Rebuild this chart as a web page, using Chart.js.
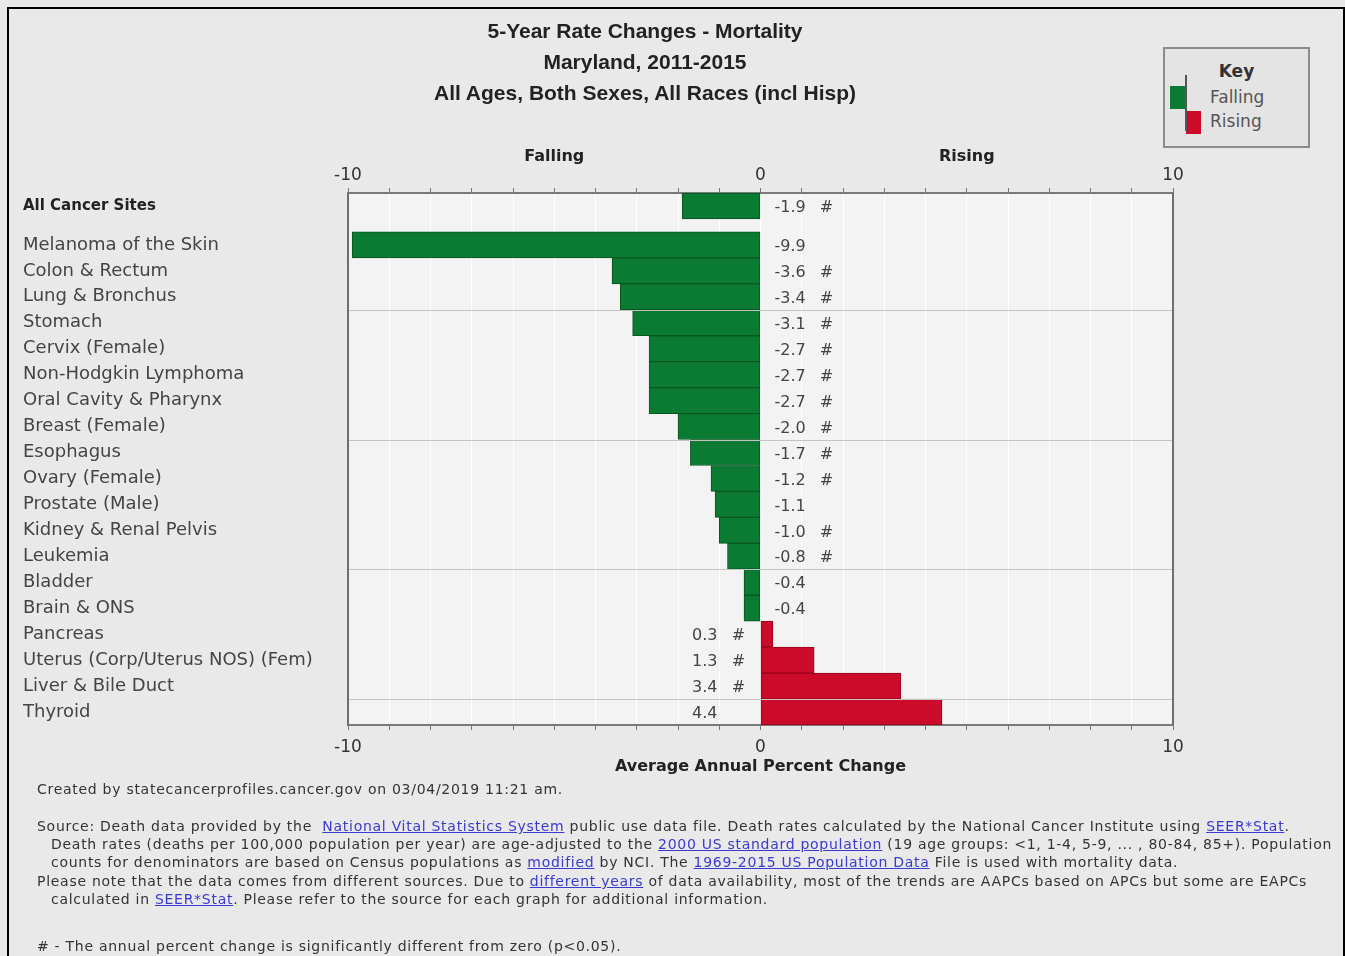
<!DOCTYPE html>
<html>
<head>
<meta charset="utf-8">
<script src="https://cdn.jsdelivr.net/npm/chart.js@4/dist/chart.umd.min.js"></script>
<style>
  body { margin: 0; background: #e9e9e9; }
  #page { position: relative; width: 1345px; height: 956px; overflow: hidden; background: #e9e9e9; font-family: "DejaVu Sans", sans-serif; }
  #frame { position: absolute; left: 7px; top: 7px; width: 1334px; height: 990px; border: 2px solid #000; }
  #chart { position: absolute; left: 0; top: 0; }
  .title { position: absolute; left: 345px; width: 600px; text-align: center; font: bold 21px "Liberation Sans", Arial, sans-serif; color: #222; }
  #key { position: absolute; left: 1163px; top: 47px; width: 143px; height: 97px; border: 2px solid #8c8c8c; background: #e4e4e4; color: #555; font-size: 17px; }
  #key .sw { position: absolute; width: 15px; height: 23px; }
  .note { position: absolute; white-space: nowrap; font-size: 14px; color: #333; letter-spacing: 0.72px; }
  .note a { color: #3a3ad0; text-decoration: underline; }
</style>
</head>
<body>
<div id="page">
  <div id="frame"></div>
  <canvas id="chart" width="1345" height="956"></canvas>
  <div class="title" style="top:19px">5-Year Rate Changes - Mortality</div>
  <div class="title" style="top:50px">Maryland, 2011-2015</div>
  <div class="title" style="top:81px">All Ages, Both Sexes, All Races (incl Hisp)</div>
  <div id="key">
    <div style="position:absolute;left:0;width:143px;top:12px;text-align:center;font-weight:bold;color:#333">Key</div>
    <div class="sw" style="left:5px;top:37px;background:#0b7a33"></div>
    <div class="sw" style="left:21px;top:62px;background:#cc0a2a"></div>
    <div style="position:absolute;left:20px;top:26px;width:2px;height:56px;background:#555"></div>
    <div style="position:absolute;left:45px;top:38px">Falling</div>
    <div style="position:absolute;left:45px;top:62px">Rising</div>
  </div>
  <div class="note" style="left:37px;top:781px">Created by statecancerprofiles.cancer.gov on 03/04/2019 11:21 am.</div>
  <div class="note" style="left:37px;top:818px">Source: Death data provided by the &nbsp;<a>National Vital Statistics System</a> public use data file. Death rates calculated by the National Cancer Institute using <a>SEER*Stat</a>.</div>
  <div class="note" style="left:51px;top:836px">Death rates (deaths per 100,000 population per year) are age-adjusted to the <a>2000 US standard population</a> (19 age groups: &lt;1, 1-4, 5-9, ... , 80-84, 85+). Population</div>
  <div class="note" style="left:51px;top:854px">counts for denominators are based on Census populations as <a>modified</a> by NCI. The <a>1969-2015 US Population Data</a> File is used with mortality data.</div>
  <div class="note" style="left:37px;top:873px">Please note that the data comes from different sources. Due to <a>different years</a> of data availability, most of the trends are AAPCs based on APCs but some are EAPCs</div>
  <div class="note" style="left:51px;top:891px">calculated in <a>SEER*Stat</a>. Please refer to the source for each graph for additional information.</div>
  <div class="note" style="left:37px;top:938px"># - The annual percent change is significantly different from zero (p&lt;0.05).</div>
</div>
<script>
const sites = [
  "All Cancer Sites", "Melanoma of the Skin", "Colon & Rectum", "Lung & Bronchus",
  "Stomach", "Cervix (Female)", "Non-Hodgkin Lymphoma", "Oral Cavity & Pharynx",
  "Breast (Female)", "Esophagus", "Ovary (Female)", "Prostate (Male)",
  "Kidney & Renal Pelvis", "Leukemia", "Bladder", "Brain & ONS", "Pancreas",
  "Uterus (Corp/Uterus NOS) (Fem)", "Liver & Bile Duct", "Thyroid"
];
const apc = [-1.9, -9.9, -3.6, -3.4, -3.1, -2.7, -2.7, -2.7, -2.0, -1.7, -1.2, -1.1, -1.0, -0.8, -0.4, -0.4, 0.3, 1.3, 3.4, 4.4];
const significant = [true, false, true, true, true, true, true, true, true, true, true, false, true, true, false, false, true, true, true, false];
const xTickLabels = [-10, 0, 10];

const FALL = "#0b7a33", FALL_EDGE = "#06561f";
const RISE = "#cc0a2a", RISE_EDGE = "#99001a";
const FONT = "DejaVu Sans";

// first row stands apart, the rest follow half a row lower
const rowPos = sites.map((s, i) => (i === 0 ? 0 : i + 0.5));

const plotBox = {
  id: "plotBox",
  beforeDraw(chart) {
    const { ctx, chartArea: a } = chart;
    ctx.save();
    ctx.fillStyle = "#f3f3f3";
    ctx.fillRect(a.left, a.top, a.right - a.left, a.bottom - a.top);
    ctx.restore();
  },
  afterDraw(chart) {
    const { ctx, chartArea: a } = chart;
    const y = chart.scales.y;
    ctx.save();
    // group separators every 5 rows
    ctx.strokeStyle = "#c4c4c4";
    ctx.lineWidth = 1;
    [3, 8, 13, 18].forEach((i) => {
      const py = Math.round(y.getPixelForValue((rowPos[i] + rowPos[i + 1]) / 2)) + 0.5;
      ctx.beginPath();
      ctx.moveTo(a.left, py);
      ctx.lineTo(a.right, py);
      ctx.stroke();
    });
    ctx.strokeStyle = "#6e6e6e";
    ctx.lineWidth = 2;
    ctx.beginPath();
    ctx.moveTo(a.left, a.top); ctx.lineTo(a.left, a.bottom);
    ctx.moveTo(a.right, a.top); ctx.lineTo(a.right, a.bottom);
    ctx.stroke();

    const x = chart.scales.x;
    const zero = x.getPixelForValue(0);
    ctx.fillStyle = "#222";
    ctx.font = "bold 16px " + FONT;
    ctx.textAlign = "center";
    ctx.textBaseline = "middle";
    ctx.fillText("Falling", x.getPixelForValue(-5), 157);
    ctx.fillText("Rising", x.getPixelForValue(5), 157);
    ctx.fillText("Average Annual Percent Change", zero, 767);

    // value labels next to zero line
    ctx.font = "16px " + FONT;
    ctx.fillStyle = "#444";
    chart.getDatasetMeta(0).data.forEach((bar, i) => {
      const v = apc[i];
      const ty = bar.y + 2;
      if (v < 0) {
        ctx.textAlign = "left";
        ctx.fillText(v.toFixed(1), zero + 14, ty);
        if (significant[i]) { ctx.textAlign = "center"; ctx.fillText("#", zero + 66, ty); }
      } else {
        ctx.textAlign = "right";
        ctx.fillText(v.toFixed(1), zero - 43, ty);
        if (significant[i]) { ctx.textAlign = "center"; ctx.fillText("#", zero - 22, ty); }
      }
    });
    ctx.restore();
  }
};

const xTickFont = { family: FONT, size: 17 };
const xLabel = (v) => (xTickLabels.includes(v) ? String(v) : "");

new Chart(document.getElementById("chart"), {
  type: "bar",
  data: {
    datasets: [{
      data: apc.map((v, i) => ({ x: v, y: rowPos[i] })),
      backgroundColor: apc.map((v) => (v < 0 ? FALL : RISE)),
      borderColor: apc.map((v) => (v < 0 ? FALL_EDGE : RISE_EDGE)),
      borderWidth: 1,
      borderSkipped: false,
      barPercentage: 1,
      categoryPercentage: 1
    }]
  },
  options: {
    indexAxis: "y",
    responsive: false,
    animation: false,
    layout: { padding: { left: 23, right: 172, top: 0, bottom: 0 } },
    plugins: { legend: { display: false }, tooltip: { enabled: false } },
    scales: {
      y: {
        type: "linear",
        reverse: true,
        offset: false,
        bounds: "data",
        min: -0.5,
        max: 20,
        afterBuildTicks: (s) => { s.ticks = rowPos.map((v) => ({ value: v })); },
        afterFit: (s) => { s.width = 325; },
        grid: { display: false, offset: false },
        border: { display: false },
        ticks: {
          crossAlign: "far",
          autoSkip: false,
          color: (c) => (c.index === 0 ? "#222" : "#444"),
          font: (c) => (c.index === 0 ? { family: FONT, size: 15, weight: "bold" } : { family: FONT, size: 18 }),
          callback: (v, i) => sites[i]
        }
      },
      x: {
        type: "linear",
        position: "bottom",
        min: -10,
        max: 10,
        afterFit: (s) => { s.height = 231; },
        grid: { color: "#ffffff", lineWidth: 1, tickColor: "#777", tickLength: 5 },
        border: { color: "#7a7a7a", width: 2 },
        ticks: { stepSize: 1, autoSkip: false, maxRotation: 0, padding: 7, color: "#333", font: xTickFont, callback: xLabel }
      },
      x2: {
        type: "linear",
        position: "top",
        min: -10,
        max: 10,
        afterFit: (s) => { s.height = 193; },
        grid: { drawOnChartArea: false, tickColor: "#777", tickLength: 5 },
        border: { color: "#7a7a7a", width: 2 },
        ticks: { stepSize: 1, autoSkip: false, maxRotation: 0, padding: 2, color: "#333", font: xTickFont, callback: xLabel }
      }
    }
  },
  plugins: [plotBox]
});
</script>
</body>
</html>
